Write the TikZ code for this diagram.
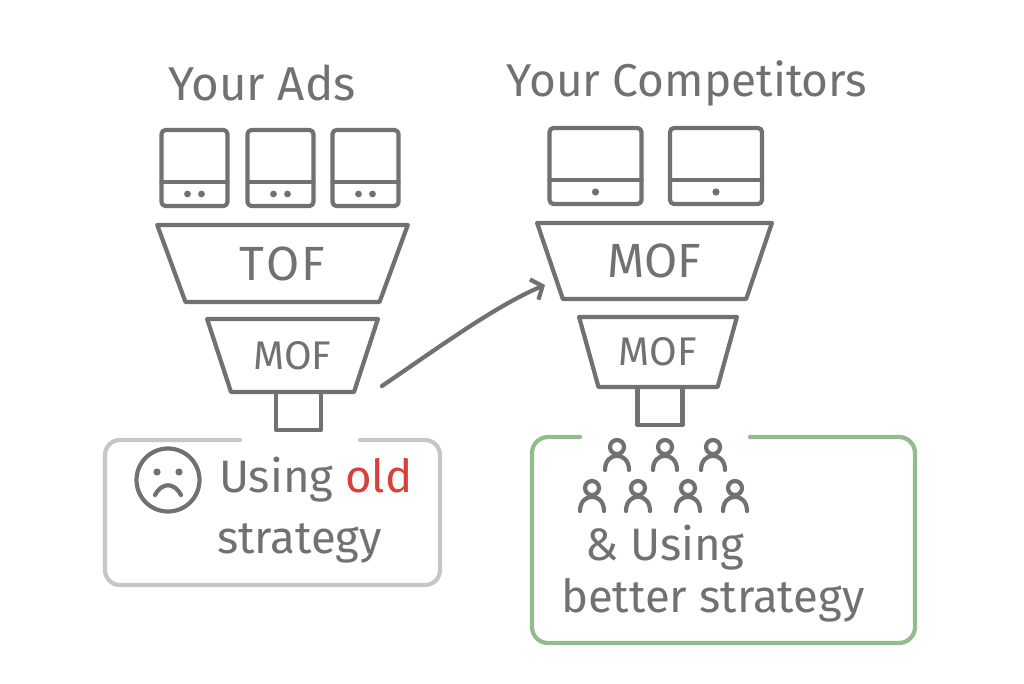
\documentclass[tikz,border=0pt]{standalone}
\usepackage{fontspec}
\setmainfont{Fira Sans}
\usetikzlibrary{positioning,shapes.geometric,arrows.meta,calc}
\definecolor{inkgray}{HTML}{717171}
\definecolor{boxgray}{HTML}{C6C6C6}
\definecolor{okgreen}{HTML}{93BC8D}
\definecolor{oldred}{HTML}{D8403A}

\newcommand{\personicon}[2]{%
  \draw (#1,#2) circle[radius=7];
  \draw (#1-12,#2+23) .. controls (#1-12,#2+4) and (#1+12,#2+4) .. (#1+12,#2+23);
}

\begin{document}
\begin{tikzpicture}[x=1pt,y=-1pt,color=inkgray,line width=4.2pt,line cap=round,line join=round]
  \tikzstyle{every node}=[outer sep=0,inner sep=0]
  \tikzstyle{title}=[font=\fontsize{46}{54}\selectfont]
  \tikzstyle{body}=[font=\fontsize{45.5}{52}\selectfont]
  \tikzstyle{adbox}=[draw,rectangle,rounded corners=4,minimum height=76]
  \tikzstyle{funnel}=[draw,trapezium,trapezium stretches=true,shape border rotate=180]
  \tikzstyle{spout}=[draw,rectangle,minimum width=45,minimum height=38]
  \useasboundingbox (0,0) rectangle (1024,683);

  % titles
  \node[title,anchor=base,font=\fontsize{47.5}{54}\selectfont] (adsT) at (262,100) {Your Ads};
  \node[title,anchor=base] (compT) at (687,96) {Your Competitors};

  % your ads
  \foreach \i/\x in {1/194.5,2/280.5,3/365.5} {
    \node[adbox,minimum width=66] (ad\i) at (\x,168) {};
    \draw ([yshift=-14pt]ad\i.west) -- ([yshift=-14pt]ad\i.east);
    \fill ([shift={(-7,26)}]ad\i.center) circle[radius=3.4];
    \fill ([shift={(7,26)}]ad\i.center) circle[radius=3.4];
  }
  \node[funnel,minimum width=251,minimum height=77,trapezium angle=70,
        font=\fontsize{48}{54}\selectfont] (tofL) at (282.5,263.5) {T\kern2pt O\kern2pt F};
  \node[funnel,minimum width=171,minimum height=73,trapezium angle=62,
        font=\fontsize{40}{48}\selectfont] (mofL) at (292.5,355.5) {MOF};
  \node[spout,below=0pt of mofL,xshift=6pt] (spoutL) {};

  % competitors
  \foreach \i/\x in {1/595.5,2/716} {
    \node[adbox,minimum width=92] (mon\i) at (\x,166) {};
    \draw ([yshift=-14pt]mon\i.west) -- ([yshift=-14pt]mon\i.east);
    \fill ([yshift=-26pt]mon\i.center) circle[radius=3.6];
  }
  \node[funnel,minimum width=235,minimum height=76,trapezium angle=69,
        font=\fontsize{48}{54}\selectfont] (mofA) at (654.5,261) {MOF};
  \node[funnel,minimum width=158,minimum height=70,trapezium angle=66,
        font=\fontsize{40}{48}\selectfont] (mofB) at (658,352) {MOF};
  \node[spout,below=0pt of mofB,xshift=2pt] (spoutR) {};

  % arrow
  \coordinate (arrS) at (382,386);
  \coordinate (arrE) at (545,285);
  \draw[-{Straight Barb[length=9pt,width=22pt]}] (arrS) .. controls (435,350) and (495,306) .. (arrE);

  % old strategy box
  \draw[boxgray,rounded corners=15] (360,440) -- (440,440) -- (440,585) -- (105,585) -- (105,440) -- (240,440);
  \node[draw,circle,minimum size=63] (sad) at (168,480) {};
  \fill ($(sad)+(-11,-8)$) circle[radius=3.6];
  \fill ($(sad)+(11,-8)$) circle[radius=3.6];
  \draw ($(sad)+(-13,15)$) .. controls ($(sad)+(-6,2)$) and ($(sad)+(6,2)$) .. ($(sad)+(13,15)$);
  \node[body,anchor=base west] (old1) at (219,492) {Using \textcolor{oldred}{old}};
  \node[body,anchor=base west] (old2) at (217,553) {strategy};

  % better strategy box
  \draw[okgreen,rounded corners=16] (750,437) -- (915,437) -- (915,643) -- (532,643) -- (532,437) -- (580,437);
  \foreach \x in {617,665,713} { \personicon{\x}{447} }
  \foreach \x in {592,638,688,735} { \personicon{\x}{488} }
  \node[body,anchor=base west] (new1) at (585,560) {\& Using};
  \node[body,anchor=base west] (new2) at (561,612) {better strategy};
\end{tikzpicture}
\end{document}
